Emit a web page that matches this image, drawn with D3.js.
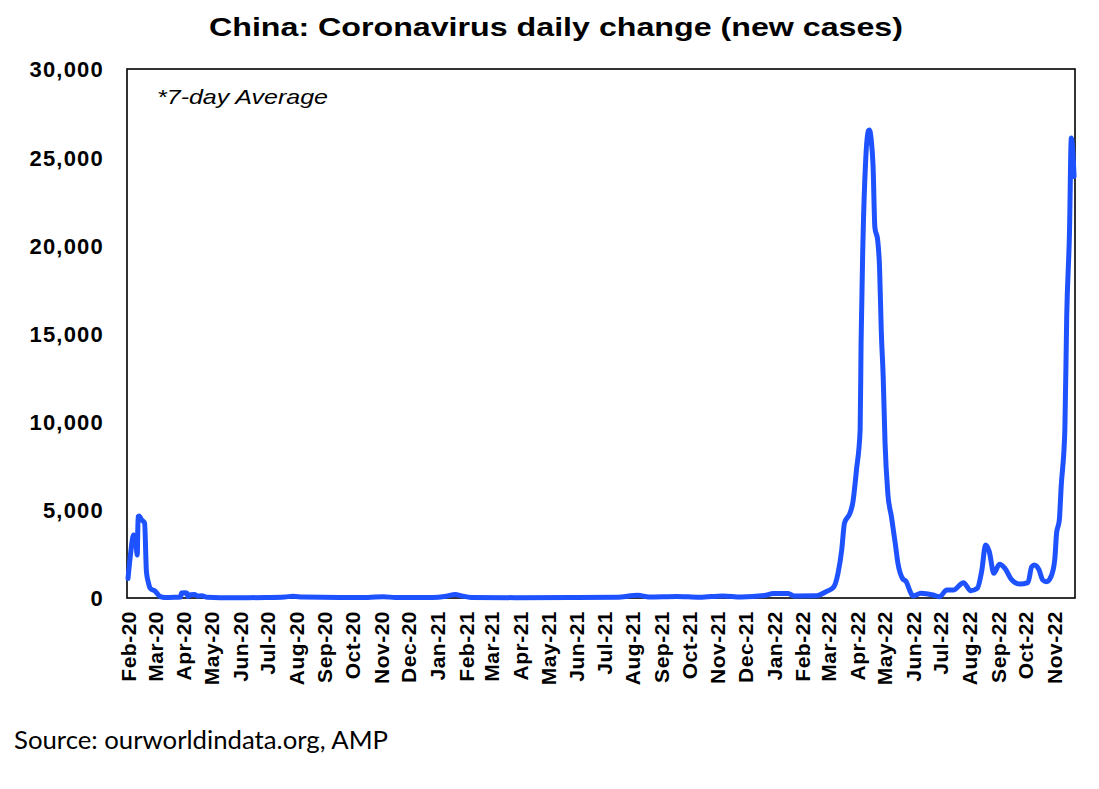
<!DOCTYPE html>
<html>
<head>
<meta charset="utf-8">
<script src="https://cdn.jsdelivr.net/npm/d3@7"></script>
<style>
  html, body { margin: 0; padding: 0; background: #ffffff; }
  svg { display: block; }
</style>
</head>
<body>
<svg id="chart" width="1099" height="789"></svg>
<script>
// ---- Data (7-day average of new daily cases) ----
const dates = [
  "2020-02-01","2020-02-04","2020-02-07","2020-02-09","2020-02-11","2020-02-12","2020-02-13",
  "2020-02-16","2020-02-19","2020-02-21","2020-02-23","2020-02-25","2020-02-28","2020-03-01",
  "2020-03-03","2020-03-07","2020-03-12","2020-03-22","2020-03-29","2020-03-30","2020-04-03",
  "2020-04-05","2020-04-06","2020-04-09","2020-04-13","2020-04-17","2020-04-21","2020-04-27",
  "2020-05-11","2020-06-10","2020-06-30","2020-07-20","2020-07-29","2020-08-09","2020-09-18",
  "2020-10-18","2020-11-04","2020-11-17","2020-12-27","2021-01-11","2021-01-21","2021-01-28",
  "2021-02-07","2021-03-27","2021-05-26","2021-07-15","2021-08-07","2021-08-19","2021-09-18",
  "2021-10-13","2021-11-07","2021-11-27","2021-12-22","2022-01-01","2022-01-17","2022-01-23",
  "2022-02-17","2022-02-27","2022-03-07","2022-03-12","2022-03-16","2022-03-19","2022-03-25",
  "2022-03-28","2022-04-01","2022-04-05","2022-04-06","2022-04-08","2022-04-11","2022-04-14",
  "2022-04-15","2022-04-17","2022-04-19","2022-04-21","2022-04-24","2022-04-26","2022-04-28",
  "2022-04-30","2022-05-02","2022-05-05","2022-05-09","2022-05-13","2022-05-16","2022-05-21",
  "2022-05-25","2022-05-29","2022-06-01","2022-06-10","2022-06-23","2022-06-30","2022-07-08",
  "2022-07-15","2022-07-26","2022-08-03","2022-08-10","2022-08-15","2022-08-19","2022-08-23",
  "2022-08-28","2022-09-03","2022-09-09","2022-09-16","2022-09-25","2022-10-04","2022-10-08",
  "2022-10-11","2022-10-16","2022-10-20","2022-10-24","2022-10-29","2022-11-02","2022-11-04",
  "2022-11-07","2022-11-09","2022-11-13","2022-11-15","2022-11-18","2022-11-20","2022-11-23"
];
const newCases = [
  1100, 2600, 3570, 3500, 2440, 4610, 4650,
  4420, 4250, 1490, 900, 560, 450, 410,
  300, 80, 30, 40, 60, 280, 300,
  280, 80, 180, 200, 110, 130, 40,
  20, 20, 30, 60, 100, 50, 30,
  30, 70, 30, 30, 100, 200, 120,
  30, 20, 30, 40, 150, 60, 90,
  40, 120, 60, 140, 250, 250, 120,
  130, 360, 600, 1410, 2720, 4250, 4820,
  5390, 7260, 9530, 14460, 20130, 24830, 26500,
  26540, 26000, 24500, 21000, 20300, 18800, 15000,
  12530, 8790, 5950, 4590, 3120, 1960, 1100,
  925, 400, 115, 265, 170, 75, 450,
  450, 870, 410, 550, 1590, 3000, 2630,
  1400, 1910, 1680, 1060, 790, 870, 1770,
  1870, 1590, 1020, 925, 1210, 2150, 3670,
  4420, 6310, 9530, 15950, 20700, 26080, 23900
];
const yTicks = [0, 5000, 10000, 15000, 20000, 25000, 30000];
const monthTicks = [
  "2020-02-01","2020-03-01","2020-04-01","2020-05-01","2020-06-01","2020-07-01","2020-08-01",
  "2020-09-01","2020-10-01","2020-11-01","2020-12-01","2021-01-01","2021-02-01","2021-03-01",
  "2021-04-01","2021-05-01","2021-06-01","2021-07-01","2021-08-01","2021-09-01","2021-10-01",
  "2021-11-01","2021-12-01","2022-01-01","2022-02-01","2022-03-01","2022-04-01","2022-05-01",
  "2022-06-01","2022-07-01","2022-08-01","2022-09-01","2022-10-01","2022-11-01"
];
const titleText = "China: Coronavirus daily change (new cases)";
const noteText = "*7-day Average";
const sourceText = "Source: ourworldindata.org, AMP";

// ---- Layout ----
const svg = d3.select("#chart");
const plot = { left: 127, right: 1075, top: 69, bottom: 598 };
const parse = d3.utcParse("%Y-%m-%d");
const data = dates.map((d, i) => ({ date: parse(d), value: newCases[i] }));

const x = d3.scaleUtc()
  .domain([parse("2020-02-01"), parse("2022-11-24")])
  .range([128, 1075]);
const y = d3.scaleLinear()
  .domain([0, 30000])
  .range([plot.bottom, plot.top]);

// Title
svg.append("text")
  .attr("x", 556).attr("y", 36)
  .attr("text-anchor", "middle")
  .attr("font-family", "Liberation Sans, Arial, sans-serif")
  .attr("font-weight", "bold")
  .attr("font-size", 25)
  .attr("textLength", 694)
  .attr("lengthAdjust", "spacingAndGlyphs")
  .text(titleText);

// Y axis labels
const yAxis = d3.axisLeft(y)
  .tickValues(yTicks)
  .tickSize(0)
  .tickPadding(0)
  .tickFormat(d3.format(","));
const gy = svg.append("g")
  .attr("transform", `translate(104,0)`)
  .call(yAxis);
gy.select(".domain").remove();
gy.selectAll("text")
  .attr("font-family", "Liberation Sans, Arial, sans-serif")
  .attr("font-weight", "bold")
  .attr("font-size", 22)
  .attr("letter-spacing", 1.2)
  .attr("fill", "#000")
  .attr("dy", "0.36em");

// X axis labels
const xAxis = d3.axisBottom(x)
  .tickValues(monthTicks.map(parse))
  .tickSize(0)
  .tickPadding(0)
  .tickFormat(d3.utcFormat("%b-%y"));
const gx = svg.append("g")
  .attr("transform", `translate(0,${plot.bottom})`)
  .call(xAxis);
gx.select(".domain").remove();
gx.selectAll("text")
  .attr("font-family", "Liberation Sans, Arial, sans-serif")
  .attr("font-weight", "bold")
  .attr("font-size", 21)
  .attr("letter-spacing", 0.5)
  .attr("fill", "#000")
  .attr("text-anchor", "end")
  .attr("transform", "rotate(-90)")
  .attr("x", -13)
  .attr("y", 0)
  .attr("dy", "0.36em");

// Plot frame
svg.append("rect")
  .attr("x", plot.left).attr("y", plot.top)
  .attr("width", plot.right - plot.left)
  .attr("height", plot.bottom - plot.top)
  .attr("fill", "none")
  .attr("stroke", "#000")
  .attr("stroke-width", 1.6);

// Note
svg.append("text")
  .attr("x", 157).attr("y", 104)
  .attr("font-family", "Liberation Sans, Arial, sans-serif")
  .attr("font-style", "italic")
  .attr("font-size", 21)
  .attr("textLength", 171)
  .attr("lengthAdjust", "spacingAndGlyphs")
  .text(noteText);

// Line
const line = d3.line()
  .x(d => x(d.date))
  .y(d => y(d.value))
  .curve(d3.curveMonotoneX);
svg.append("path")
  .datum(data)
  .attr("d", line)
  .attr("fill", "none")
  .attr("stroke", "#1f52ff")
  .attr("stroke-width", 5)
  .attr("stroke-linejoin", "round")
  .attr("stroke-linecap", "round");

// Source
svg.append("text")
  .attr("x", 14).attr("y", 749)
  .attr("font-family", "Lato, Open Sans, sans-serif")
  .attr("font-size", 25)
  .attr("textLength", 374)
  .attr("lengthAdjust", "spacingAndGlyphs")
  .text(sourceText);
</script>
</body>
</html>
